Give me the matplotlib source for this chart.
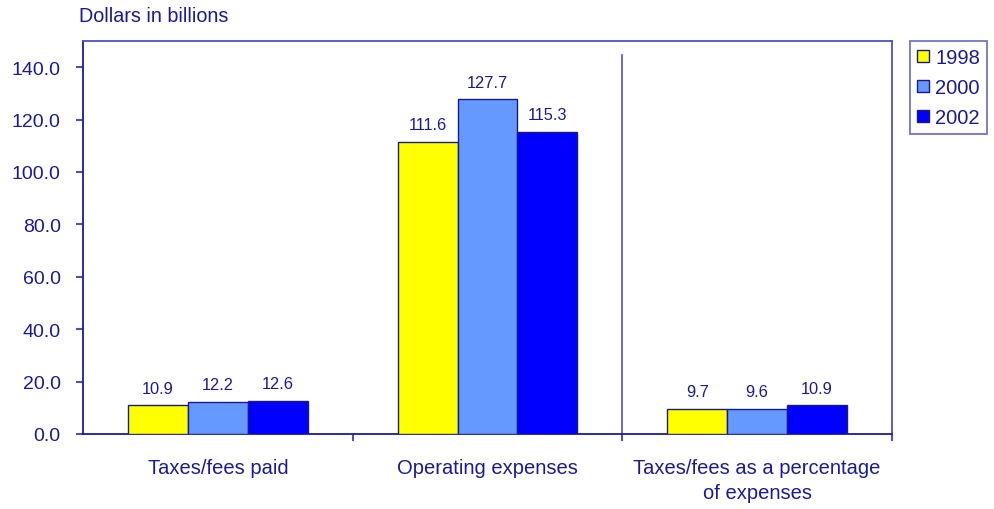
import matplotlib
matplotlib.use("Agg")
import matplotlib.pyplot as plt
import numpy as np
from matplotlib.patches import Patch

categories = ["Taxes/fees paid", "Operating expenses", "Taxes/fees as a percentage\nof expenses"]
years = ["1998", "2000", "2002"]
v1998 = [10.9, 111.6, 9.7]
v2000 = [12.2, 127.7, 9.6]
v2002 = [12.6, 115.3, 10.9]
colors = ["#FFFF00", "#6699FF", "#0000FF"]
yticks = [0, 20, 40, 60, 80, 100, 120, 140]

plt.rcParams['font.family'] = ['Liberation Sans', 'DejaVu Sans']
txt = "#1a1a99"
spine = "#5050b8"
edge = "#1a1a80"

fig = plt.figure(figsize=(9.95, 5.10), dpi=100)
ax = fig.add_axes([83/995, 1-435/510, (892-83)/995, (435-42)/510])

x = np.arange(len(categories))
w = 0.222
series = [v1998, v2000, v2002]
for i, (vals, c) in enumerate(zip(series, colors)):
    pos = x + (i-1)*w
    bars = ax.bar(pos, vals, w, color=c, edgecolor=edge, linewidth=1.0, zorder=3)
    for b, v in zip(bars, vals):
        ax.annotate(f"{v:.1f}", (b.get_x()+b.get_width()/2, v), xytext=(0, 7),
                    textcoords="offset points", ha="center", va="bottom",
                    fontsize=11.8, color=txt)

ax.set_xlim(-0.5, 2.5)
ax.set_ylim(0, 150)
ax.set_yticks(yticks)
ax.set_yticklabels([f"{t:.1f}" for t in yticks], fontsize=14, color=txt)
ax.set_xticks(x)
ax.set_xticklabels(categories, fontsize=14.5, color=txt, linespacing=1.4)
ax.tick_params(axis='x', length=0, pad=17)
ax.set_xticks([0.5, 1.5, 2.5], minor=True)
ax.tick_params(axis='x', which='minor', length=5, color=spine, width=1.5, direction='out')
ax.tick_params(axis='y', length=5, color=spine, width=1.5, direction='out', pad=11)
for s in ax.spines.values():
    s.set_color(spine)
    s.set_linewidth(1.3)
ax.spines['left'].set_color("#1a1aa0")
ax.spines['bottom'].set_color("#1a1aa0")

ax.plot([1.5, 1.5], [0, 144.5], color=spine, linewidth=1.2, zorder=2)

fig.text(79/995, 1-17/510, "Dollars in billions", fontsize=14.2, color=txt, ha="left", va="center")

handles = [Patch(facecolor=c, edgecolor=edge, label=y) for c, y in zip(colors, years)]
leg = fig.legend(handles=handles, loc="upper left", bbox_to_anchor=(910/995, 1-42/510),
                 fontsize=14.5, frameon=True, fancybox=False, handlelength=0.6,
                 handleheight=0.6, handletextpad=0.3, borderpad=0.35, labelspacing=0.55,
                 borderaxespad=0)
leg.get_frame().set_edgecolor(spine)
leg.get_frame().set_linewidth(1.3)
for t in leg.get_texts():
    t.set_color(txt)

fig.savefig("out.png", dpi=100)
